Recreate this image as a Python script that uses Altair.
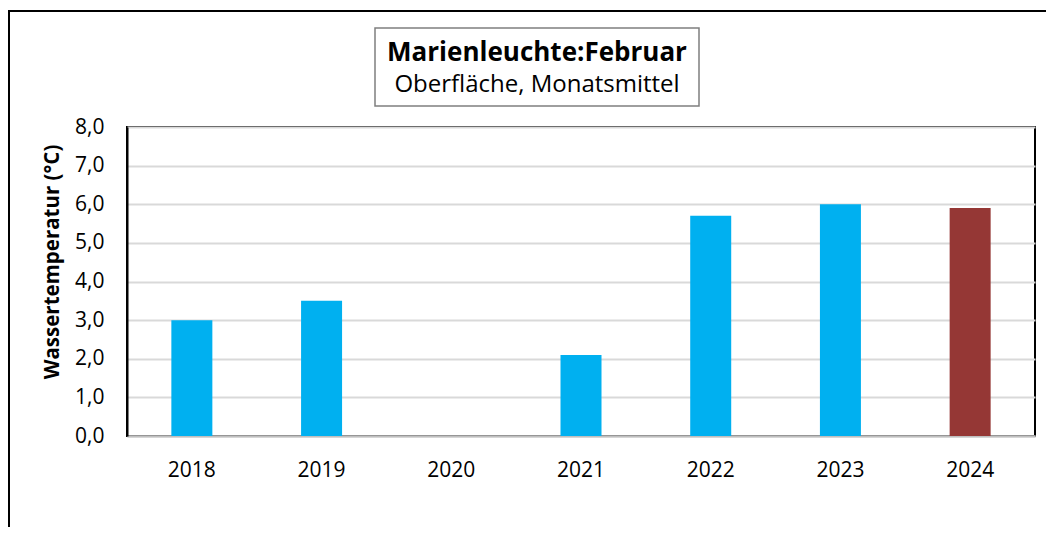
import altair as alt
import pandas as pd

years = ["2018", "2019", "2020", "2021", "2022", "2023", "2024"]
temps = [3.0, 3.5, None, 2.1, 5.7, 6.0, 5.9]
colors = ["#00B0F0", "#00B0F0", "#00B0F0", "#00B0F0", "#00B0F0", "#00B0F0", "#953735"]
title_main = ["Marienleuchte:Februar"]
title_sub = ["Oberfläche, Monatsmittel"]
y_title = "Wassertemperatur (°C)"
y_ticks = [0, 1, 2, 3, 4, 5, 6, 7, 8]

FONT = "Open Sans"

df = pd.DataFrame({"Jahr": years, "Wert": temps, "Farbe": colors})
one = pd.DataFrame({"main": title_main, "sub": title_sub})

frame = alt.Chart(one).mark_rect(
    fillOpacity=0, stroke="black", strokeWidth=2
).encode(x=alt.value(-118), x2=alt.value(1100), y=alt.value(-116), y2=alt.value(600))

tbox = alt.Chart(one).mark_rect(
    fill="white", stroke="#7f7f7f", strokeWidth=1.5
).encode(x=alt.value(248), x2=alt.value(572), y=alt.value(-99), y2=alt.value(-21))

tmain = alt.Chart(one).mark_text(
    font=FONT, fontSize=26, fontWeight="bold", color="black", align="center", baseline="alphabetic"
).encode(x=alt.value(410), y=alt.value(-66), text="main:N")

tsub = alt.Chart(one).mark_text(
    font=FONT, fontSize=24, color="black", align="center", baseline="alphabetic"
).encode(x=alt.value(410), y=alt.value(-35), text="sub:N")

bars = alt.Chart(df).mark_bar(size=41).encode(
    x=alt.X("Jahr:N", scale=alt.Scale(domain=years, paddingInner=0, paddingOuter=0),
            sort=years,
            axis=alt.Axis(title=None, labelAngle=0, ticks=False, labelPadding=40,
                          labelBaseline="alphabetic", labelFont=FONT, labelFontSize=21,
                          labelColor="black", domainColor="#bfbfbf", domainWidth=2, grid=False)),
    y=alt.Y("Wert:Q", scale=alt.Scale(domain=[0, 8], nice=False),
            axis=alt.Axis(values=y_ticks, title=y_title, ticks=False, labelPadding=23,
                          labelExpr="replace(format(datum.value, '.1f'), '.', ',')",
                          labelFont=FONT, labelFontSize=21, labelColor="black",
                          domainColor="black", domainWidth=2,
                          gridColor="#d9d9d9", gridWidth=2,
                          titleFont=FONT, titleFontSize=20.5, titleFontWeight="bold",
                          titleColor="black", titleAngle=-90, titleX=-69, titleY=134.5,
                          titleAlign="center", titleBaseline="alphabetic")),
    color=alt.Color("Farbe:N", scale=None),
)

chart = alt.layer(frame, tbox, tmain, tsub, bars).properties(
    width=908, height=309,
    autosize=alt.AutoSizeParams(type="none"),
    padding={"left": 119, "top": 119, "right": 11, "bottom": 91},
    background="white",
).configure_view(stroke="black", strokeWidth=2)

chart.save("out.html", embed_options={"renderer": "svg", "actions": False})
